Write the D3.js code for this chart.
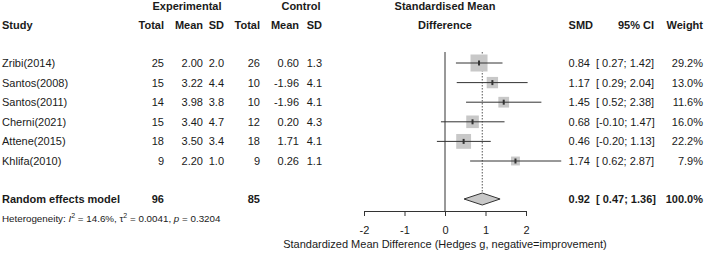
<!DOCTYPE html>
<html>
<head>
<meta charset="utf-8">
<script src="https://cdn.jsdelivr.net/npm/d3@7"></script>
<style>
  body { margin: 0; background: #fff; }
  text { font-family: "Liberation Sans", Arial, sans-serif; fill: #1a1a1a; }
  .b { font-weight: bold; }
</style>
</head>
<body>
<div id="chart"></div>
<script>
var svgWidth = 708;
var svgHeight = 257;

// study data
var studies = ["Zribi(2014)", "Santos(2008)", "Santos(2011)", "Cherni(2021)", "Attene(2015)", "Khlifa(2010)"];
var expN = [25, 15, 14, 15, 18, 9];
var expMean = ["2.00", "3.22", "3.98", "3.40", "3.50", "2.20"];
var expSD = ["2.0", "4.4", "3.8", "4.7", "3.4", "1.0"];
var ctrlN = [26, 10, 10, 12, 18, 9];
var ctrlMean = ["0.60", "-1.96", "-1.96", "0.20", "1.71", "0.26"];
var ctrlSD = ["1.3", "4.1", "4.1", "4.3", "4.1", "1.1"];
var smd = [0.84, 1.17, 1.45, 0.68, 0.46, 1.74];
var ciLow = [0.27, 0.29, 0.52, -0.10, -0.20, 0.62];
var ciHigh = [1.42, 2.04, 2.38, 1.47, 1.13, 2.87];
var weights = [29.2, 13.0, 11.6, 16.0, 22.2, 7.9];

// pooled
var pooledSmd = 0.92;
var pooledLow = 0.47;
var pooledHigh = 1.36;
var totalExp = 96;
var totalCtrl = 85;
var axisTicks = [-2, -1, 0, 1, 2];

var svg = d3.select("#chart")
    .append("svg")
    .attr("width", svgWidth)
    .attr("height", svgHeight);

var xScale = d3.scaleLinear()
    .domain([-2, 2])
    .range([364, 526]);

var yScale = d3.scaleLinear()
    .domain([0, 5])
    .range([63, 161]);

var pooledY = 199;
var axisY = 211;
var fs = 11;

function txt(x, y, s, anchor, cls, size) {
    return svg.append("text")
        .attr("x", x)
        .attr("y", y)
        .attr("text-anchor", anchor || "start")
        .attr("class", cls || null)
        .style("font-size", (size || fs) + "px")
        .text(s);
}

// headers
txt(187, 10, "Experimental", "middle", "b");
txt(301, 10, "Control", "middle", "b");
txt(445, 10, "Standardised Mean", "middle", "b");
txt(2, 29, "Study", "start", "b");
txt(164, 29, "Total", "end", "b");
txt(203, 29, "Mean", "end", "b");
txt(224, 29, "SD", "end", "b");
txt(260, 29, "Total", "end", "b");
txt(299, 29, "Mean", "end", "b");
txt(322, 29, "SD", "end", "b");
txt(445, 29, "Difference", "middle", "b");
txt(593, 29, "SMD", "end", "b");
txt(654, 29, "95% CI", "end", "b");
txt(703, 29, "Weight", "end", "b");

var fmtCi = function (v) { return (v < 0 ? "" : " ") + v.toFixed(2); };

// study rows
studies.forEach(function (s, i) {
    var y = yScale(i) + 4;
    txt(2, y, s);
    txt(164, y, expN[i], "end");
    txt(203, y, expMean[i], "end");
    txt(224, y, expSD[i], "end");
    txt(260, y, ctrlN[i], "end");
    txt(299, y, ctrlMean[i], "end");
    txt(322, y, ctrlSD[i], "end");
    txt(590, y, smd[i].toFixed(2), "end");
    txt(596, y, "[" + fmtCi(ciLow[i]) + "; " + ciHigh[i].toFixed(2) + "]", "start");
    txt(703, y, weights[i].toFixed(1) + "%", "end");
});

// pooled row
txt(2, pooledY + 4, "Random effects model", "start", "b");
txt(164, pooledY + 4, totalExp, "end", "b");
txt(260, pooledY + 4, totalCtrl, "end", "b");
txt(590, pooledY + 4, pooledSmd.toFixed(2), "end", "b");
txt(596, pooledY + 4, "[" + fmtCi(pooledLow) + "; " + pooledHigh.toFixed(2) + "]", "start", "b");
txt(703, pooledY + 4, "100.0%", "end", "b");

// heterogeneity
var het = svg.append("text")
    .attr("x", 2)
    .attr("y", 222)
    .style("font-size", "9.8px");
het.append("tspan").text("Heterogeneity: ");
het.append("tspan").style("font-style", "italic").text("I");
het.append("tspan").attr("dy", -4).style("font-size", "7px").text("2");
het.append("tspan").attr("dy", 4).text(" = 14.6%, \u03c4");
het.append("tspan").attr("dy", -4).style("font-size", "7px").text("2");
het.append("tspan").attr("dy", 4).text(" = 0.0041, ");
het.append("tspan").style("font-style", "italic").text("p");
het.append("tspan").text(" = 0.3204");

// null line
svg.append("line")
    .attr("x1", xScale(0)).attr("x2", xScale(0))
    .attr("y1", 52).attr("y2", axisY)
    .attr("stroke", "#333").attr("stroke-width", 1);

// pooled dotted line
svg.append("line")
    .attr("x1", xScale(pooledSmd)).attr("x2", xScale(pooledSmd))
    .attr("y1", 52).attr("y2", pooledY - 6)
    .attr("stroke", "#555").attr("stroke-width", 1)
    .attr("stroke-dasharray", "1.5,1.5");

// squares sized by weight
var rows = svg.selectAll("g.study")
    .data(studies)
    .enter()
    .append("g")
    .attr("class", "study");

rows.append("rect")
    .attr("x", function (d, i) { var s = 3.15 * Math.sqrt(weights[i]); return xScale(smd[i]) - s / 2; })
    .attr("y", function (d, i) { var s = 3.15 * Math.sqrt(weights[i]); return yScale(i) - s / 2; })
    .attr("width", function (d, i) { return 3.15 * Math.sqrt(weights[i]); })
    .attr("height", function (d, i) { return 3.15 * Math.sqrt(weights[i]); })
    .attr("fill", "#c8c8c8");

rows.append("line")
    .attr("x1", function (d, i) { return xScale(ciLow[i]); })
    .attr("x2", function (d, i) { return xScale(ciHigh[i]); })
    .attr("y1", function (d, i) { return yScale(i); })
    .attr("y2", function (d, i) { return yScale(i); })
    .attr("stroke", "#333").attr("stroke-width", 1);

rows.append("rect")
    .attr("x", function (d, i) { return xScale(smd[i]) - 1; })
    .attr("y", function (d, i) { return yScale(i) - 2.5; })
    .attr("width", 2)
    .attr("height", 5)
    .attr("fill", "#333");

// diamond
svg.append("polygon")
    .attr("points", [
        [xScale(pooledLow), pooledY],
        [xScale(pooledSmd), pooledY - 6],
        [xScale(pooledHigh), pooledY],
        [xScale(pooledSmd), pooledY + 6]
    ].map(function (p) { return p.join(","); }).join(" "))
    .attr("fill", "#c8c8c8")
    .attr("stroke", "#333")
    .attr("stroke-width", 1);

// axis
var axis = d3.axisBottom(xScale)
    .tickValues(axisTicks)
    .tickSize(5)
    .tickSizeOuter(0)
    .tickFormat(function (d) { return String(d); });

var axisG = svg.append("g")
    .attr("transform", "translate(0," + axisY + ")")
    .call(axis);
axisG.select("path").attr("stroke", "#333");
axisG.selectAll("line").attr("stroke", "#333");
axisG.selectAll("text")
    .attr("y", 15)
    .style("font-size", fs + "px")
    .style("font-family", "Liberation Sans, Arial, sans-serif")
    .attr("fill", "#1a1a1a");

txt(xScale(0), 248, "Standardized Mean Difference (Hedges g, negative=improvement)", "middle", null, 11);
</script>
</body>
</html>
